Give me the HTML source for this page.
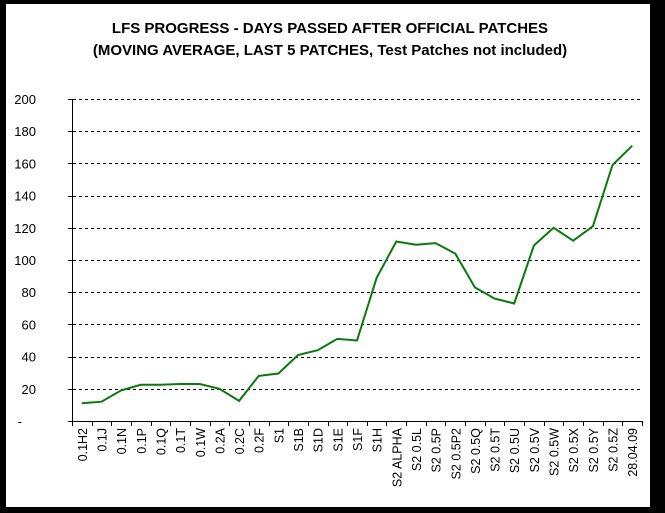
<!DOCTYPE html>
<html><head><meta charset="utf-8"><style>
body{margin:0;background:#000}
svg{display:block}
text{font-family:"Liberation Sans",Arial,sans-serif}
</style></head><body>
<svg width="665" height="513" viewBox="0 0 665 513" xmlns="http://www.w3.org/2000/svg">
<rect x="0" y="0" width="665" height="513" fill="#000"/>
<rect x="6" y="4" width="644" height="503" fill="#fff"/>
<text x="330" y="33" text-anchor="middle" font-size="15" font-weight="bold">LFS PROGRESS - DAYS PASSED AFTER OFFICIAL PATCHES</text>
<text x="330" y="55" text-anchor="middle" font-size="15" font-weight="bold">(MOVING AVERAGE, LAST 5 PATCHES, Test Patches not included)</text>
<g id="grid" stroke="#000" stroke-width="1" stroke-dasharray="3,3"></g>
<g id="yl" font-size="13" text-anchor="end"></g>
<line x1="72.5" y1="99" x2="72.5" y2="421" stroke="#000"/>
<line x1="68" y1="421.5" x2="642" y2="421.5" stroke="#000"/>
<g id="xt" stroke="#000"></g>
<g id="xl" font-size="12.5"></g>
<polyline id="ln" fill="none" stroke="#0a7a0a" stroke-width="2"/>
</svg>
<script>
const ns="http://www.w3.org/2000/svg";
const y0=421,yk=322/200;
const g=document.getElementById('grid'),yl=document.getElementById('yl');
for(let v=0;v<=200;v+=20){const y=y0-v*yk;
 if(v>0){const l=document.createElementNS(ns,'line');l.setAttribute('x1',73);l.setAttribute('x2',642);l.setAttribute('y1',Math.round(y)+.5);l.setAttribute('y2',Math.round(y)+.5);g.appendChild(l);}
 const t=document.createElementNS(ns,'text');t.setAttribute('x',v==0?22:36);t.setAttribute('y',y+5);t.textContent=v==0?'-':v;yl.appendChild(t);
 const tk=document.createElementNS(ns,'line');tk.setAttribute('x1',68);tk.setAttribute('x2',73);tk.setAttribute('y1',Math.round(y)+.5);tk.setAttribute('y2',Math.round(y)+.5);tk.setAttribute('stroke','#000');yl.appendChild(tk);}
const L=["0.1H2","0.1J","0.1N","0.1P","0.1Q","0.1T","0.1W","0.2A","0.2C","0.2F","S1","S1B","S1D","S1E","S1F","S1H","S2 ALPHA","S2 0.5L","S2 0.5P","S2 0.5P2","S2 0.5Q","S2 0.5T","S2 0.5U","S2 0.5V","S2 0.5W","S2 0.5X","S2 0.5Y","S2 0.5Z","28.04.09"];
const V=[11,12,19,22.5,22.5,23,23,20,12.5,28,29.5,41,44,51,50,89,111.5,109.5,110.5,104,83,76,73,109,120,112,121,159,171];
const w=570/29,xt=document.getElementById('xt'),xl=document.getElementById('xl');let pts=[];
for(let i=0;i<=29;i++){const x=Math.round(72+i*w)+.5;const l=document.createElementNS(ns,'line');l.setAttribute('x1',x);l.setAttribute('x2',x);l.setAttribute('y1',421);l.setAttribute('y2',426);xt.appendChild(l);}
L.forEach((s,i)=>{const x=72+(i+.5)*w;pts.push(x.toFixed(1)+','+(y0-V[i]*yk).toFixed(1));
 const t=document.createElementNS(ns,'text');t.setAttribute('transform',`translate(${x+5},428) rotate(-90)`);t.setAttribute('text-anchor','end');t.textContent=s;xl.appendChild(t);});
document.getElementById('ln').setAttribute('points',pts.join(' '));
</script>
</body></html>
